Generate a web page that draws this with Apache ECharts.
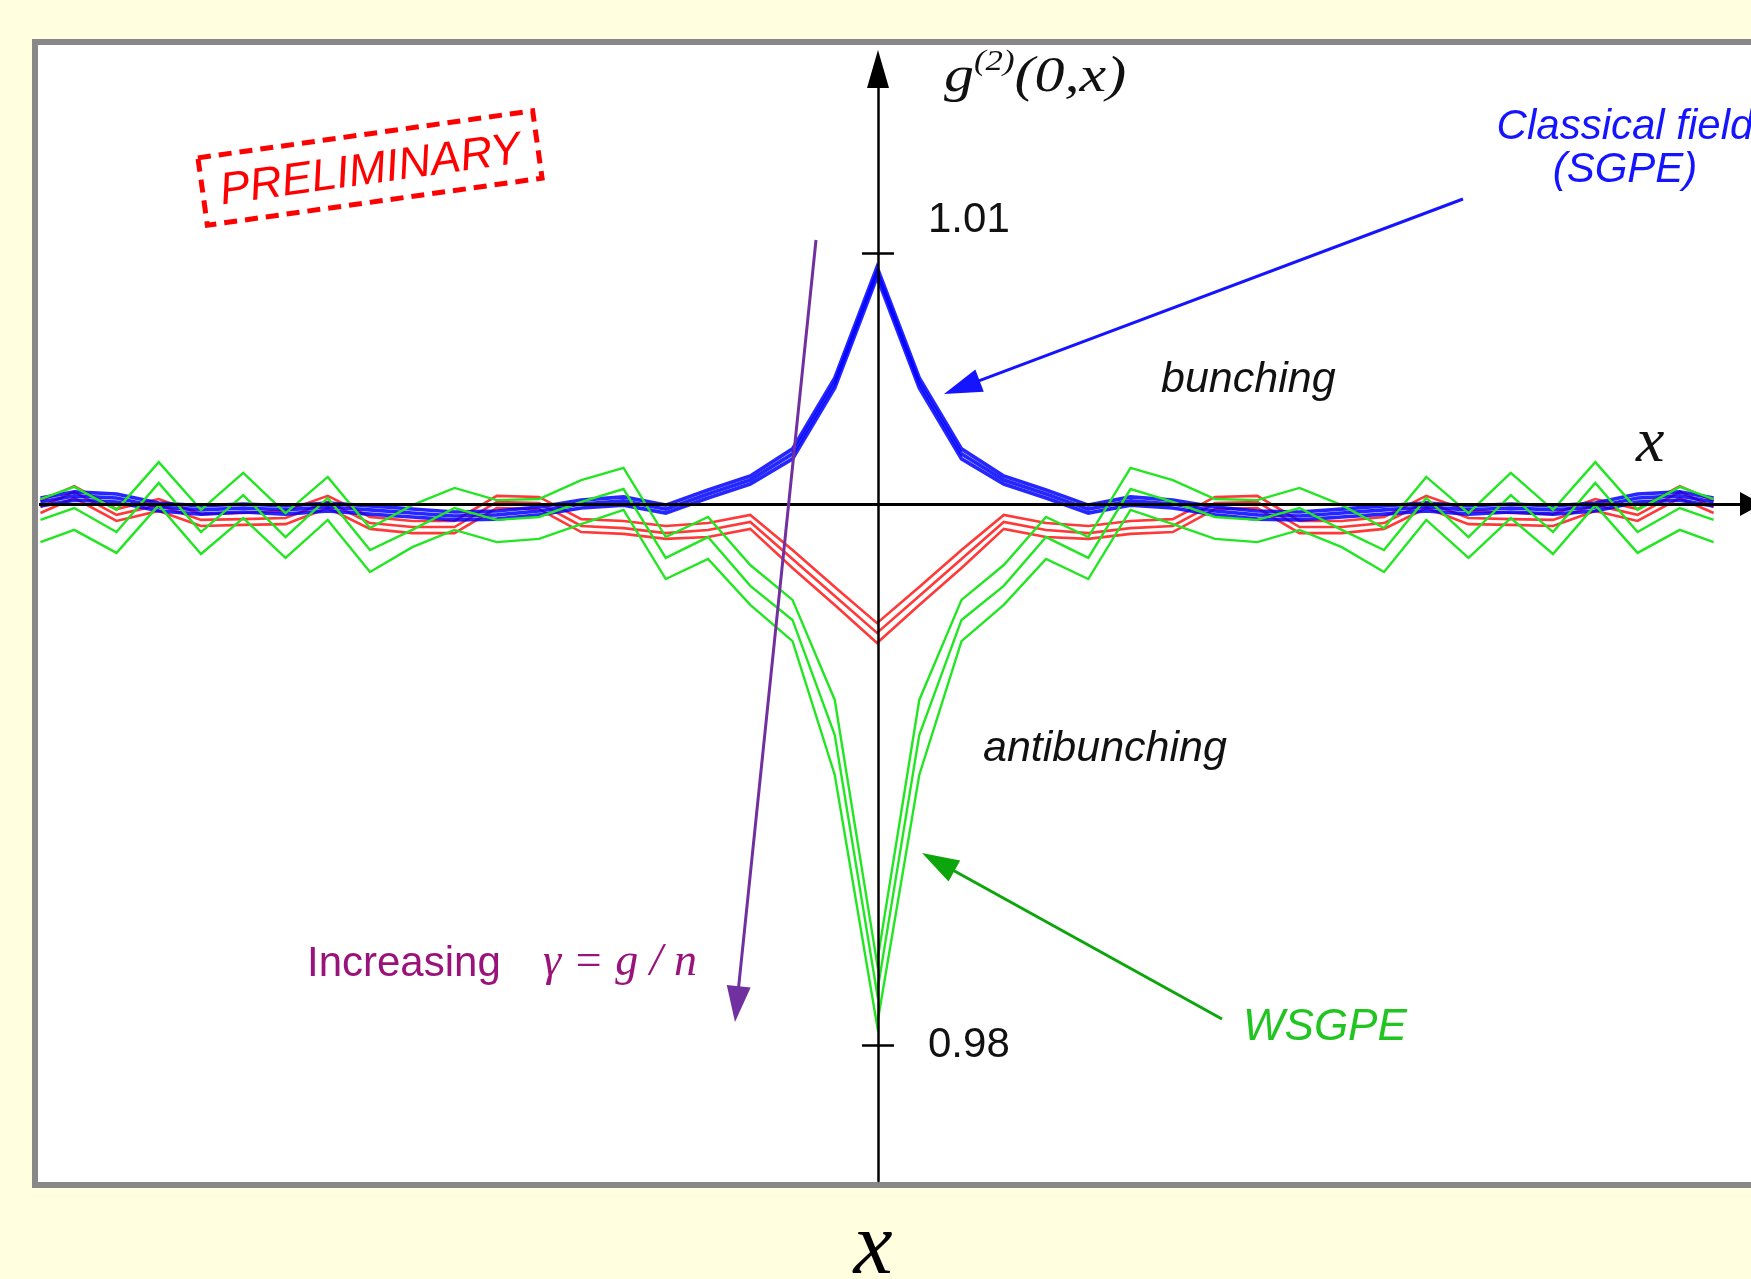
<!DOCTYPE html>
<html>
<head>
<meta charset="utf-8">
<script src="https://cdn.jsdelivr.net/npm/echarts@6/dist/echarts.min.js"></script>
<style>
html,body{margin:0;padding:0;background:#ffffe0;}
#c{width:1751px;height:1279px;}
</style>
</head>
<body>
<div id="c"></div>
<script>
// ---- data (x in lattice units, values are g2(0,x)) ----
const xPos = [-19.8, -19, -18, -17, -16, -15, -14, -13, -12, -11, -10, -9, -8, -7, -6, -5, -4, -3, -2, -1, 0,
  1, 2, 3, 4, 5, 6, 7, 8, 9, 10, 11, 12, 13, 14, 15, 16, 17, 18, 19, 19.8];

// Classical field (SGPE) – blue
const sgpeA = [1.00072, 1.00095, 1.00087, 1.00053, 1.00042, 1.00049, 1.00042, 1.00053, 1.00042, 1.00030, 1.00019, 1.00023, 1.00038, 1.00064, 1.00076, 1.00045, 1.00102, 1.00155, 1.00258, 1.00527, 1.00947, 1.00527, 1.00258, 1.00155, 1.00102, 1.00045, 1.00076, 1.00064, 1.00038, 1.00023, 1.00019, 1.00030, 1.00042, 1.00053, 1.00042, 1.00049, 1.00042, 1.00053, 1.00087, 1.00095, 1.00072];
const sgpeB = [1.00057, 1.00080, 1.00072, 1.00038, 1.00027, 1.00034, 1.00027, 1.00038, 1.00027, 1.00015, 1.00004, 1.00008, 1.00023, 1.00049, 1.00061, 1.00030, 1.00087, 1.00140, 1.00239, 1.00508, 1.00928, 1.00508, 1.00239, 1.00140, 1.00087, 1.00030, 1.00061, 1.00049, 1.00023, 1.00008, 1.00004, 1.00015, 1.00027, 1.00038, 1.00027, 1.00034, 1.00027, 1.00038, 1.00072, 1.00080, 1.00057];
const sgpeC = [1.00042, 1.00064, 1.00057, 1.00023, 1.00011, 1.00019, 1.00011, 1.00023, 1.00011, 1.00000, 0.99989, 0.99992, 1.00008, 1.00034, 1.00045, 1.00015, 1.00072, 1.00125, 1.00220, 1.00489, 1.00909, 1.00489, 1.00220, 1.00125, 1.00072, 1.00015, 1.00045, 1.00034, 1.00008, 0.99992, 0.99989, 1.00000, 1.00011, 1.00023, 1.00011, 1.00019, 1.00011, 1.00023, 1.00057, 1.00064, 1.00042];

// intermediate curves – red
const redA = [1.00061, 1.00117, 1.00030, 1.00068, 1.00011, 1.00015, 1.00023, 1.00080, 1.00000, 0.99985, 0.99985, 1.00080, 1.00076, 0.99992, 0.99985, 0.99966, 0.99977, 1.00008, 0.99875, 0.99735, 0.99598, 0.99735, 0.99875, 1.00008, 0.99977, 0.99966, 0.99985, 0.99992, 1.00076, 1.00080, 0.99985, 0.99985, 1.00000, 1.00080, 1.00023, 1.00015, 1.00011, 1.00068, 1.00030, 1.00117, 1.00061];
const redB = [1.00038, 1.00095, 1.00008, 1.00045, 0.99989, 0.99992, 0.99996, 1.00057, 0.99977, 0.99962, 0.99962, 1.00057, 1.00053, 0.99966, 0.99958, 0.99939, 0.99951, 0.99981, 0.99841, 0.99701, 0.99561, 0.99701, 0.99841, 0.99981, 0.99951, 0.99939, 0.99958, 0.99966, 1.00053, 1.00057, 0.99962, 0.99962, 0.99977, 1.00057, 0.99996, 0.99992, 0.99989, 1.00045, 1.00008, 1.00095, 1.00038];
const redC = [1.00015, 1.00072, 0.99985, 1.00023, 0.99966, 0.99970, 0.99973, 1.00034, 0.99955, 0.99939, 0.99939, 1.00034, 1.00030, 0.99943, 0.99936, 0.99917, 0.99924, 0.99955, 0.99807, 0.99667, 0.99523, 0.99667, 0.99807, 0.99955, 0.99924, 0.99917, 0.99936, 0.99943, 1.00030, 1.00034, 0.99939, 0.99939, 0.99955, 1.00034, 0.99973, 0.99970, 0.99966, 1.00023, 0.99985, 1.00072, 1.00015];

// WSGPE – green
const wsgpeA = [1.00068, 1.00114, 1.00027, 1.00208, 1.00027, 1.00167, 1.00015, 1.00152, 0.99958, 1.00045, 1.00110, 1.00064, 1.00068, 1.00140, 1.00186, 0.99924, 1.00000, 0.99818, 0.99686, 0.99307, 0.98311, 0.99307, 0.99686, 0.99818, 1.00000, 0.99924, 1.00186, 1.00140, 1.00068, 1.00064, 1.00110, 1.00045, 0.99958, 1.00152, 1.00015, 1.00167, 1.00027, 1.00208, 1.00027, 1.00114, 1.00068];
const wsgpeB = [0.99989, 1.00034, 0.99943, 1.00129, 0.99943, 1.00083, 0.99924, 1.00072, 0.99875, 0.99951, 1.00034, 0.99989, 1.00000, 1.00057, 1.00106, 0.99845, 0.99924, 0.99739, 0.99610, 0.99174, 0.98197, 0.99174, 0.99610, 0.99739, 0.99924, 0.99845, 1.00106, 1.00057, 1.00000, 0.99989, 1.00034, 0.99951, 0.99875, 1.00072, 0.99924, 1.00083, 0.99943, 1.00129, 0.99943, 1.00034, 0.99989];
const wsgpeC = [0.99905, 0.99951, 0.99864, 1.00045, 0.99860, 0.99996, 0.99845, 0.99989, 0.99792, 0.99886, 0.99951, 0.99905, 0.99917, 0.99973, 1.00027, 0.99765, 0.99841, 0.99667, 0.99530, 0.99023, 0.98076, 0.99023, 0.99530, 0.99667, 0.99841, 0.99765, 1.00027, 0.99973, 0.99917, 0.99905, 0.99951, 0.99886, 0.99792, 0.99989, 0.99845, 0.99996, 0.99860, 1.00045, 0.99864, 0.99951, 0.99905];

const yTickValues = [0.98, 1.01];
const xAxisLevel = 1.00049;

// ---- chart ----
const SANS = '"Liberation Sans", Arial, sans-serif';
const SERIF = '"Liberation Serif", "Times New Roman", serif';

function lineSeries(name, arr, color, width) {
  return {
    type: 'line', name: name,
    data: xPos.map((x, i) => [x, arr[i]]),
    showSymbol: false, symbol: 'none', silent: true, animation: false,
    lineStyle: { color: color, width: width, join: 'miter' },
    itemStyle: { color: color }
  };
}

function arrowEls(x1, y1, x2, y2, color, lw, L, W) {
  const dx = x2 - x1, dy = y2 - y1, len = Math.hypot(dx, dy);
  const ux = dx / len, uy = dy / len, nx = -uy, ny = ux;
  const bx = x2 - ux * L, by = y2 - uy * L;
  return [
    { type: 'line', z: 50, shape: { x1: x1, y1: y1, x2: bx + ux * 3, y2: by + uy * 3 }, style: { stroke: color, lineWidth: lw } },
    { type: 'polygon', z: 50, shape: { points: [[x2, y2], [bx + nx * W, by + ny * W], [bx - nx * W, by - ny * W]] }, style: { fill: color } }
  ];
}

const chart = echarts.init(document.getElementById('c'));

const RED = 'rgba(255,0,0,0.78)';
const BLUE = 'rgba(0,0,255,0.85)';
const GREEN = '#22e622';
const GRID_LEFT = 39;
const Y_AXIS_X = 878;

const option = {
  backgroundColor: '#ffffe0',
  animation: false,
  grid: { left: GRID_LEFT, top: 69, width: 1714, height: 1112, containLabel: false },
  xAxis: {
    type: 'value', min: -19.8345, max: 20.6856,
    axisLine: { show: false }, axisTick: { show: false }, axisLabel: { show: false }, splitLine: { show: false }
  },
  yAxis: [
    {
      type: 'value', min: 0.97484848, max: 1.0169697, z: 10,
      position: 'left', offset: GRID_LEFT - Y_AXIS_X,
      axisLine: { show: true, onZero: false, symbol: ['none', 'triangle'], symbolSize: [22, 38], lineStyle: { color: '#000', width: 2.5 } },
      axisTick: { show: true, inside: false, length: 16, customValues: yTickValues, lineStyle: { color: '#000', width: 2.5 } },
      axisLabel: {
        show: true, inside: true, margin: 50, customValues: yTickValues,
        fontSize: 42, fontFamily: SANS, color: '#111',
        formatter: function (v) { return v > 1 ? '{hi|' + v.toFixed(2) + '}' : '{lo|' + v.toFixed(2) + '}'; },
        rich: {
          hi: { fontSize: 42, fontFamily: SANS, color: '#111', lineHeight: 44, padding: [0, 0, 66, 0] },
          lo: { fontSize: 42, fontFamily: SANS, color: '#111', lineHeight: 44 }
        }
      },
      splitLine: { show: false }
    },
    {
      type: 'value', min: 0.97484848, max: 1.0169697, z: 10,
      position: 'left', offset: GRID_LEFT - Y_AXIS_X,
      axisLine: { show: false, onZero: false },
      axisTick: { show: true, inside: true, length: 16, customValues: yTickValues, lineStyle: { color: '#000', width: 2.5 } },
      axisLabel: { show: false },
      splitLine: { show: false }
    }
  ],
  series: [
    lineSeries('red1', redA, RED, 2.6),
    lineSeries('red2', redB, RED, 2.6),
    lineSeries('red3', redC, RED, 2.6),
    lineSeries('sgpe1', sgpeA, BLUE, 3.6),
    lineSeries('sgpe2', sgpeB, BLUE, 3.6),
    lineSeries('sgpe3', sgpeC, BLUE, 3.6),
    lineSeries('wsgpe1', wsgpeA, GREEN, 2.4),
    lineSeries('wsgpe2', wsgpeB, GREEN, 2.4),
    lineSeries('wsgpe3', wsgpeC, GREEN, 2.4),
    {
      type: 'line', name: 'xaxis', data: [], silent: true, animation: false,
      markLine: {
        silent: true, animation: false, z: 8, precision: 6,
        symbol: ['none', 'triangle'], symbolSize: [24, 22],
        label: { show: false },
        lineStyle: { color: '#000', width: 3, type: 'solid' },
        emphasis: { disabled: true },
        data: [{ yAxis: xAxisLevel }]
      }
    }
  ],
  graphic: [
    // panel
    { type: 'rect', z: -10, silent: true, shape: { x: 35, y: 42, width: 1800, height: 1143 }, style: { fill: '#ffffff', stroke: '#888888', lineWidth: 6 } },
    // title g^(2)(0,x)
    {
      type: 'text', z: 60, x: 944, y: 48, scaleX: 1.2,
      style: {
        text: '{a|g}{s|(2)}{a|(0,x)}', verticalAlign: 'top', align: 'left',
        rich: {
          a: { fontFamily: SERIF, fontStyle: 'italic', fontSize: 50, lineHeight: 60, fill: '#111' },
          s: { fontFamily: SERIF, fontStyle: 'italic', fontSize: 29, lineHeight: 10, verticalAlign: 'top', fill: '#111' }
        }
      }
    },
    // x label near arrow
    { type: 'text', z: 60, x: 1636, y: 444, style: { text: 'x', font: 'italic 64px ' + SERIF, fill: '#111', verticalAlign: 'middle', align: 'left' } },
    // bottom x label
    { type: 'text', z: 60, x: 873, y: 1250, style: { text: 'x', font: 'italic 88px ' + SERIF, fill: '#000', verticalAlign: 'middle', align: 'center' } },
    // PRELIMINARY stamp
    {
      type: 'group', x: 370, y: 168, rotation: 8 * Math.PI / 180, z: 60,
      children: [
        { type: 'rect', z: 60, shape: { x: -169, y: -34, width: 338, height: 68 }, style: { fill: null, stroke: '#ff0000', lineWidth: 5, lineDash: [13, 8] } },
        { type: 'text', z: 60, style: { text: 'PRELIMINARY', x: 0, y: 3, align: 'center', verticalAlign: 'middle', font: 'italic 45px ' + SANS, fill: '#ff0000' } }
      ]
    },
    // Classical field (SGPE)
    { type: 'text', z: 60, x: 1625, y: 106, style: { text: 'Classical field\n(SGPE)', align: 'center', verticalAlign: 'top', lineHeight: 43, font: 'italic 42px ' + SANS, fill: '#1414ff' } },
    // bunching / antibunching
    { type: 'text', z: 60, x: 1161, y: 380, style: { text: 'bunching', align: 'left', verticalAlign: 'middle', font: 'italic 43px ' + SANS, fill: '#111' } },
    { type: 'text', z: 60, x: 983, y: 749, style: { text: 'antibunching', align: 'left', verticalAlign: 'middle', font: 'italic 43px ' + SANS, fill: '#111' } },
    // WSGPE
    { type: 'text', z: 60, x: 1243, y: 1028, style: { text: 'WSGPE', align: 'left', verticalAlign: 'middle', font: 'italic 44px ' + SANS, fill: '#22c422' } },
    // Increasing gamma
    { type: 'text', z: 60, x: 307, y: 964, style: { text: 'Increasing', align: 'left', verticalAlign: 'middle', font: '42px ' + SANS, fill: '#99137b' } },
    { type: 'text', z: 60, x: 543, y: 963, style: { text: 'γ = g / n', align: 'left', verticalAlign: 'middle', font: 'italic 46px ' + SERIF, fill: '#99137b' } }
  ].concat(
    arrowEls(1463, 199, 944, 394, '#1414ff', 3, 38, 12),
    arrowEls(1222, 1019, 922, 853, '#0ca60c', 3, 37, 12),
    arrowEls(816, 240, 735, 1022, '#7030a0', 3, 36, 12)
  )
};

chart.setOption(option);
</script>
</body>
</html>
